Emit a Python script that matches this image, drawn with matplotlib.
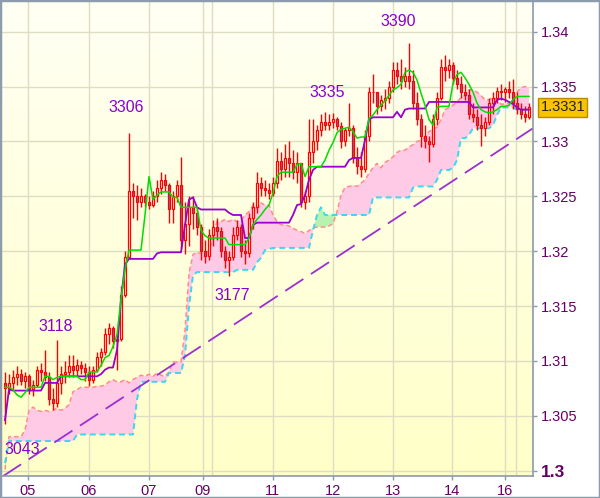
import numpy as np
import matplotlib.pyplot as plt
from matplotlib.patches import Rectangle
from matplotlib.colors import LinearSegmentedColormap

# prices in pips above 1.0000 (3331 -> 1.3331), one value per bar
first_open = 3080
close = [3075, 3080, 3085, 3088, 3082, 3086, 3074, 3078, 3092, 3090,
         3085, 3065, 3062, 3080, 3088, 3090, 3095, 3092, 3096, 3094,
         3090, 3083, 3092, 3104, 3108, 3125, 3130, 3118, 3120, 3160,
         3195, 3255, 3250, 3245, 3250, 3245, 3242, 3250, 3258, 3265,
         3260, 3238, 3250, 3260, 3210, 3225, 3240, 3235, 3222, 3200,
         3196, 3215, 3222, 3218, 3200, 3192, 3195, 3215, 3222, 3200,
         3198, 3230, 3240, 3262, 3258, 3256, 3253, 3262, 3282, 3275,
         3285, 3280, 3272, 3280, 3245, 3250, 3290, 3300, 3310, 3318,
         3315, 3318, 3320, 3314, 3300, 3310, 3312, 3285, 3278, 3275,
         3305, 3345, 3345, 3332, 3338, 3340, 3350, 3365, 3360, 3355,
         3360, 3355, 3335, 3320, 3305, 3300, 3298, 3320, 3340, 3368,
         3365, 3370, 3358, 3352, 3345, 3342, 3325, 3322, 3315, 3312,
         3318, 3335, 3340, 3346, 3345, 3348, 3345, 3335, 3330, 3325,
         3322, 3331]
high = [3090, 3088, 3092, 3095, 3093, 3090, 3088, 3083, 3095, 3098,
        3110, 3090, 3075, 3119, 3095, 3100, 3105, 3105, 3102, 3100,
        3098, 3095, 3095, 3108, 3112, 3130, 3135, 3132, 3125, 3168,
        3200, 3308, 3262, 3260, 3258, 3252, 3250, 3255, 3265, 3272,
        3270, 3262, 3255, 3265, 3286, 3245, 3250, 3250, 3240, 3225,
        3210, 3220, 3228, 3230, 3222, 3205, 3200, 3222, 3228, 3225,
        3210, 3235, 3245, 3272, 3268, 3265, 3262, 3268, 3294, 3290,
        3298, 3300, 3292, 3290, 3280, 3255, 3320, 3320, 3315, 3325,
        3327, 3325, 3326, 3322, 3318, 3312, 3335, 3315, 3295, 3290,
        3310, 3350, 3361, 3345, 3342, 3348, 3355, 3372, 3372, 3375,
        3368, 3390, 3365, 3345, 3325, 3315, 3305, 3325, 3345, 3375,
        3379, 3375, 3372, 3365, 3360, 3352, 3348, 3335, 3330, 3325,
        3322, 3340, 3345, 3350, 3352, 3350, 3355, 3357, 3345, 3335,
        3332, 3335]
low = [3043, 3070, 3074, 3078, 3078, 3075, 3070, 3068, 3076, 3082,
       3082, 3060, 3055, 3058, 3070, 3080, 3085, 3085, 3086, 3088,
       3082, 3077, 3080, 3090, 3095, 3105, 3115, 3112, 3092, 3118,
       3158, 3195, 3230, 3228, 3240, 3240, 3238, 3240, 3245, 3252,
       3255, 3226, 3226, 3245, 3203, 3197, 3205, 3220, 3215, 3192,
       3189, 3192, 3205, 3210, 3195, 3185, 3177, 3192, 3210, 3195,
       3188, 3195, 3220, 3235, 3250, 3250, 3248, 3250, 3258, 3265,
       3268, 3268, 3266, 3262, 3240, 3238, 3245, 3280, 3292, 3305,
       3310, 3310, 3312, 3310, 3294, 3296, 3305, 3280, 3270, 3268,
       3272, 3300, 3335, 3325, 3328, 3330, 3335, 3345, 3352, 3348,
       3350, 3348, 3330, 3315, 3295, 3294, 3281, 3295, 3315, 3338,
       3355, 3358, 3352, 3348, 3340, 3338, 3320, 3318, 3310, 3296,
       3305, 3315, 3325, 3335, 3338, 3336, 3340, 3330, 3325, 3320,
       3318, 3320]

# ichimoku lines
tenkan = [3076, 3076, 3074, 3069, 3067, 3071, 3076, 3076, 3076, 3076,
          3086, 3086, 3083, 3085, 3086, 3086, 3086, 3086, 3086, 3083,
          3083, 3090, 3090, 3090, 3096, 3103, 3105, 3113, 3124, 3156,
          3183, 3201, 3201, 3201, 3201, 3233, 3268, 3247, 3251, 3254,
          3254, 3254, 3249, 3249, 3240, 3240, 3240, 3240, 3240, 3219,
          3214, 3212, 3212, 3212, 3212, 3212, 3206, 3206, 3206, 3206,
          3206, 3212, 3224, 3229, 3233, 3238, 3242, 3253, 3268, 3272,
          3272, 3272, 3272, 3279, 3280, 3268, 3277, 3277, 3277, 3277,
          3283, 3292, 3299, 3308, 3311, 3312, 3313, 3309, 3303, 3304,
          3304, 3321, 3324, 3329, 3333, 3337, 3342, 3347, 3349, 3352,
          3363, 3365, 3363, 3356, 3344, 3333, 3320, 3315, 3331, 3332,
          3332, 3332, 3353, 3361, 3363, 3358, 3352, 3345, 3335, 3329,
          3327, 3326, 3327, 3329, 3332, 3332, 3333, 3338, 3341, 3341,
          3341, 3341]
kijun = [3046, 3074, 3073, 3073, 3073, 3073, 3073, 3073, 3073, 3073,
         3080, 3080, 3080, 3080, 3086, 3086, 3086, 3086, 3086, 3086,
         3086, 3086, 3086, 3086, 3088, 3092, 3094, 3094, 3110, 3156,
         3188, 3193, 3193, 3193, 3193, 3193, 3193, 3193, 3198, 3199,
         3199, 3199, 3199, 3199, 3199, 3224, 3247, 3249, 3240, 3238,
         3238, 3238, 3238, 3238, 3238, 3238, 3235, 3233, 3233, 3233,
         3212, 3212, 3224, 3226, 3226, 3226, 3226, 3226, 3226, 3226,
         3226, 3226, 3233, 3242, 3243, 3251, 3265, 3274, 3277, 3277,
         3277, 3277, 3277, 3277, 3277, 3277, 3283, 3285, 3285, 3285,
         3301, 3320, 3322, 3322, 3322, 3322, 3322, 3322, 3327, 3322,
         3329, 3330, 3330, 3330, 3330, 3330, 3336, 3336, 3336, 3336,
         3336, 3336, 3336, 3336, 3336, 3336, 3336, 3331, 3331, 3331,
         3331, 3331, 3331, 3338, 3339, 3338, 3336, 3334, 3331, 3329,
         3329, 3329]
span_a = [3001, 3031, 3031, 3031, 3031, 3037, 3055, 3058, 3055, 3054,
          3055, 3054, 3055, 3057, 3055, 3057, 3060, 3072, 3074, 3076,
          3076, 3076, 3076, 3077, 3077, 3078, 3081, 3083, 3081, 3081,
          3083, 3080, 3083, 3085, 3087, 3086, 3088, 3086, 3089, 3087,
          3086, 3090, 3099, 3099, 3099, 3128, 3180, 3197, 3199, 3198,
          3199, 3200, 3215, 3227, 3227, 3229, 3227, 3229, 3227, 3228,
          3233, 3236, 3242, 3239, 3244, 3242, 3242, 3233, 3227, 3224,
          3224, 3223, 3221, 3219, 3218, 3216, 3219, 3221, 3222, 3222,
          3222, 3223, 3225, 3236, 3251, 3258, 3259, 3260, 3259, 3262,
          3265, 3271, 3276, 3280, 3276, 3281, 3283, 3286, 3290, 3292,
          3292, 3295, 3297, 3300, 3301, 3304, 3309, 3311, 3313, 3320,
          3329, 3331, 3333, 3336, 3340, 3342, 3347, 3347, 3345, 3342,
          3338, 3338, 3340, 3338, 3334, 3334, 3335, 3338, 3345, 3349,
          3350, 3349]
span_b = [3007, 3027, 3027, 3027, 3027, 3027, 3027, 3027, 3027, 3027,
          3027, 3027, 3027, 3027, 3027, 3027, 3027, 3027, 3033, 3033,
          3033, 3033, 3033, 3033, 3033, 3033, 3033, 3033, 3033, 3033,
          3033, 3033, 3033, 3065, 3081, 3081, 3081, 3081, 3081, 3081,
          3081, 3089, 3089, 3089, 3089, 3105, 3150, 3178, 3181, 3181,
          3181, 3181, 3181, 3181, 3181, 3181, 3181, 3181, 3183, 3183,
          3183, 3183, 3183, 3190, 3194, 3201, 3202, 3203, 3203, 3203,
          3203, 3203, 3203, 3203, 3203, 3203, 3203, 3219, 3233, 3240,
          3233, 3233, 3233, 3233, 3233, 3233, 3233, 3233, 3233, 3233,
          3233, 3233, 3249, 3249, 3249, 3249, 3249, 3249, 3249, 3249,
          3249, 3249, 3258, 3259, 3259, 3259, 3259, 3259, 3265, 3274,
          3274, 3274, 3276, 3283, 3303, 3303, 3306, 3312, 3312, 3312,
          3312, 3312, 3315, 3324, 3331, 3331, 3331, 3331, 3329, 3329,
          3329, 3329]

trend_x = [-0.5, 132.0]
trend_p = [2995, 3312]

# extreme labels: text, bar position, pips (text placement)
label_txt = ["3043", "3118", "3306", "3177", "3335", "3390"]
label_x = [4.25, 12.75, 30.25, 56.75, 80.5, 98.25]
label_p = [3019, 3131, 3331, 3160, 3345, 3409]

day_pos = [5.75, 21, 36, 49.5, 66.9, 81.9, 96.9, 111.75, 125]
day_lbl = ["05", "06", "07", "09", "11", "12", "13", "14", "16"]
extra_grid = [51.75, 127.7]
price_ticks = [1.300, 1.305, 1.310, 1.315, 1.320, 1.325, 1.330, 1.335, 1.340]


def pr(v):
    return 1 + np.asarray(v, dtype=float) / 10000.0


c = pr(close)
h = pr(high)
l = pr(low)
o = pr([first_open] + close[:-1])
x = np.arange(len(close))
sa = pr(span_a)
sb = pr(span_b)

plt.rcParams['font.family'] = ['Liberation Sans', 'DejaVu Sans']

fig = plt.figure(figsize=(6, 4.98), dpi=100)
ax = fig.add_axes([2 / 600, 22 / 498, 531 / 600, 476 / 498])
xlim = (-0.75, 132.0)
ylim = (1.299517, 1.342888)

# background gradient
cmap = LinearSegmentedColormap.from_list('bg', ['#ffffc8', '#fffff4'])
grad = np.linspace(0, 1, 256).reshape(-1, 1)
ax.imshow(grad, extent=[xlim[0], xlim[1], ylim[0], ylim[1]], origin='lower',
          aspect='auto', cmap=cmap, zorder=0)

# grid
for p in price_ticks:
    ax.axhline(p, color='#deddc4', lw=1, zorder=0.5)
for d in day_pos + extra_grid:
    ax.axvline(d, color='#deddc4', lw=1, zorder=0.5)

# cloud
ax.fill_between(x, sa, sb, where=sa >= sb, interpolate=True,
                color='#ffcae6', lw=0, zorder=1)
ax.fill_between(x, sa, sb, where=sa < sb, interpolate=True,
                color='#b9f2b0', lw=0, zorder=1)
ax.plot(x, sa, color='#ff8c8c', lw=1.1, ls=(0, (3, 2)), zorder=1.5)
ax.plot(x, sb, color='#3cd6ee', lw=1.4, ls=(0, (3, 2)), zorder=1.5)

# trend line
ax.plot(trend_x, pr(trend_p), color='#9b30d0', lw=1.3, dashes=(12, 5), zorder=2)

# candles
ax.vlines(x, l, h, color='#ff0000', lw=1, zorder=3)
for i in range(len(x)):
    bot = min(o[i], c[i])
    hgt = max(abs(c[i] - o[i]), 0.00005)
    fc = '#7a68b4' if c[i] < o[i] else '#fffbe0'
    ax.add_patch(Rectangle((x[i] - 0.36, bot), 0.72, hgt, facecolor=fc,
                           edgecolor='#ff0000', lw=0.9, zorder=3.5))

# tenkan / kijun
ax.plot(x, pr(kijun), color='#9a00cc', lw=1.3, zorder=4)
ax.plot(x, pr(tenkan), color='#00dd00', lw=1.1, zorder=4.2)

for t, lx, lp in zip(label_txt, label_x, label_p):
    ax.text(lx, pr(lp), t, ha='center', va='center', fontsize=11.5,
            color='#8a00d0', zorder=5)

ax.set_xlim(*xlim)
ax.set_ylim(*ylim)

ax.yaxis.tick_right()
ax.set_yticks(price_ticks)
ax.set_yticklabels([f"{p:g}" for p in price_ticks])
ax.set_xticks(day_pos)
ax.set_xticklabels(day_lbl)
ax.tick_params(axis='both', colors='#8c9aa8', labelcolor='#660066',
               labelsize=10.5, length=3, width=1, pad=3)
ax.tick_params(axis='y', pad=3)
lab0 = ax.get_yticklabels()[0]
lab0.set_fontweight('bold')
lab0.set_fontsize(12.5)

for s in ['top', 'left']:
    ax.spines[s].set_visible(False)
for s in ['right', 'bottom']:
    ax.spines[s].set_color('#8c9aa8')
    ax.spines[s].set_linewidth(1.2)

# current price box
ax.annotate(f"{c[-1]:.4f}", xy=(1, c[-1]), xycoords=('axes fraction', 'data'),
            xytext=(5.5, 0), textcoords='offset points', ha='left', va='center',
            fontsize=10.5, color='#222222',
            bbox=dict(boxstyle='square,pad=0.15', fc='#f6c500', ec='#b88a00', lw=1))

fig.patches.append(Rectangle((0, 0), 1, 1, transform=fig.transFigure, fill=False,
                             edgecolor='#8d9cad', lw=2.5, zorder=10))

fig.savefig('out.png', dpi=100)
